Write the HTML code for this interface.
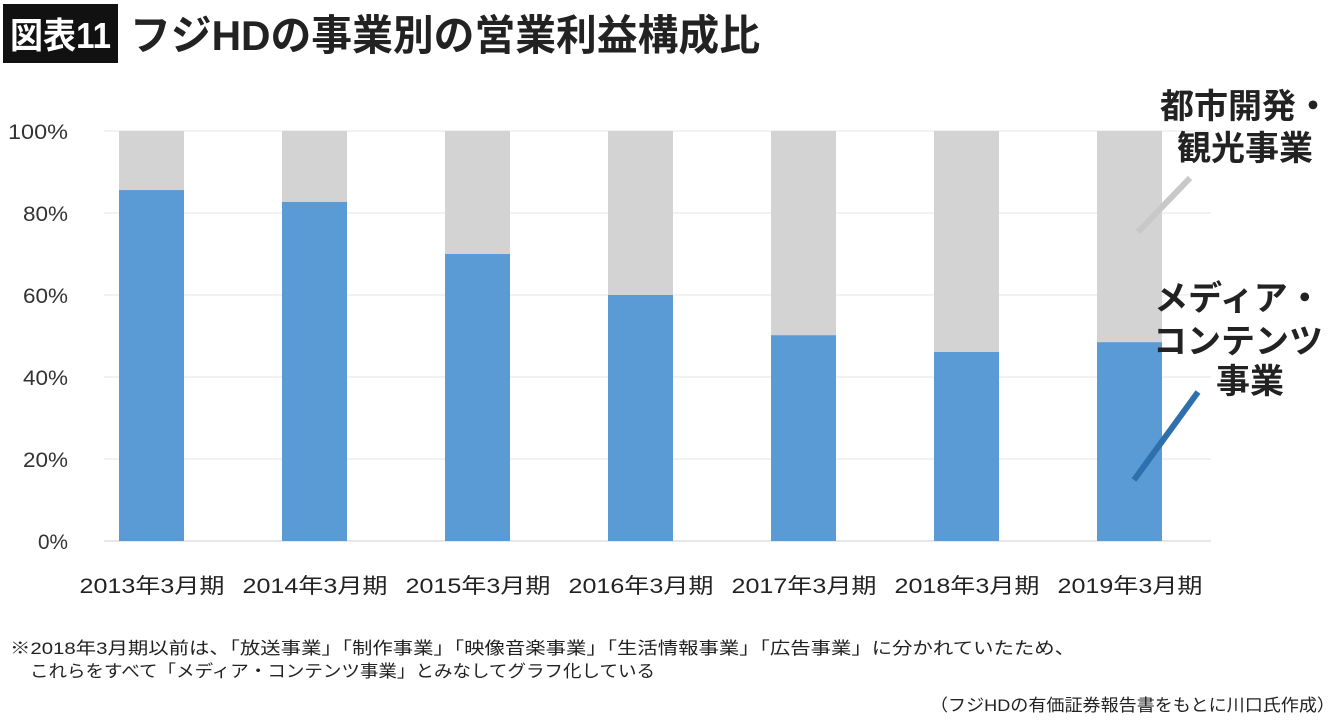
<!DOCTYPE html>
<html><head><meta charset="utf-8"><style>
html,body{margin:0;padding:0;background:#fff;}
svg{display:block;font-family:"Liberation Sans","Noto Sans CJK JP",sans-serif;}
</style></head><body>
<svg id="chart" width="1340" height="720" viewBox="0 0 1340 720">
<rect x="3" y="4" width="115" height="59" fill="#111"/>
<text x="10" y="48" font-size="36" font-weight="bold" fill="#fff" textLength="101" lengthAdjust="spacingAndGlyphs">図表11</text>
<text x="130" y="50" font-size="42" font-weight="bold" fill="#222" textLength="630" lengthAdjust="spacingAndGlyphs">フジHDの事業別の営業利益構成比</text>
<g id="grid"></g><g id="bars"></g><g id="labels"></g>
<text x="1245" y="118" font-size="34" font-weight="bold" fill="#222" text-anchor="middle">都市開発・</text>
<text x="1245" y="160" font-size="34" font-weight="bold" fill="#222" text-anchor="middle">観光事業</text>
<line x1="1190" y1="178" x2="1138" y2="232" stroke="#c8c8c8" stroke-width="6"/>
<text x="1238" y="310" font-size="34" font-weight="bold" fill="#222" text-anchor="middle">メディア・</text>
<text x="1238" y="353" font-size="34" font-weight="bold" fill="#222" text-anchor="middle">コンテンツ</text>
<text x="1250" y="393" font-size="34" font-weight="bold" fill="#222" text-anchor="middle">事業</text>
<line x1="1198" y1="392" x2="1134" y2="480" stroke="#2e6fad" stroke-width="6"/>
<text x="10" y="654" font-size="17" fill="#222" textLength="1065" lengthAdjust="spacingAndGlyphs">※2018年3月期以前は、「放送事業」「制作事業」「映像音楽事業」「生活情報事業」「広告事業」に分かれていたため、</text>
<text x="30" y="677" font-size="17" fill="#222" textLength="625" lengthAdjust="spacingAndGlyphs">これらをすべて「メディア・コンテンツ事業」とみなしてグラフ化している</text>
<text x="930" y="711" font-size="17" fill="#222" textLength="405" lengthAdjust="spacingAndGlyphs">（フジHDの有価証券報告書をもとに川口氏作成）</text>
</svg>
<script>
const categories=["2013年3月期","2014年3月期","2015年3月期","2016年3月期","2017年3月期","2018年3月期","2019年3月期"];
const mediaValues=[85.6,82.7,70,60,50.2,46.1,48.5];
const yTicks=[0,20,40,60,80,100];
const NS="http://www.w3.org/2000/svg";
const y0=541,y100=131,xStart=119,step=163,bw=65;
const yScale=v=>y0-(v/100)*(y0-y100);
const xScale=i=>xStart+i*step;
function mk(tag,attrs,parent){const e=document.createElementNS(NS,tag);for(const k in attrs)e.setAttribute(k,attrs[k]);parent.appendChild(e);return e;}
const grid=document.getElementById('grid'),bars=document.getElementById('bars'),labels=document.getElementById('labels');
yTicks.forEach(t=>{
 const l=mk('line',{x1:104,x2:1211,y1:yScale(t),y2:yScale(t),stroke:t===0?'#cfcfcf':'#e4e4e4','stroke-width':1},grid);
 
 
 const s=String(t)+'%';
 const tx=mk('text',{x:68,y:yScale(t)+8,'font-size':21,fill:'#333','text-anchor':'end',textLength:s.length*15,lengthAdjust:'spacingAndGlyphs'},labels);
 tx.textContent=s;
 
 
});
categories.forEach((c,i)=>{
 const x=xScale(i);
 const g=mk('rect',{x:x,y:yScale(100),width:bw,height:yScale(mediaValues[i])-yScale(100),fill:'#d3d3d3'},bars);
 
 
 const b=mk('rect',{x:x,y:yScale(mediaValues[i]),width:bw,height:y0-yScale(mediaValues[i]),fill:'#5b9bd5'},bars);
 
 
 const t=mk('text',{x:x+bw/2-72,y:593,'font-size':21,fill:'#222',textLength:145,lengthAdjust:'spacingAndGlyphs'},labels);
 t.textContent=c;
 
 
});
</script>
</body></html>
